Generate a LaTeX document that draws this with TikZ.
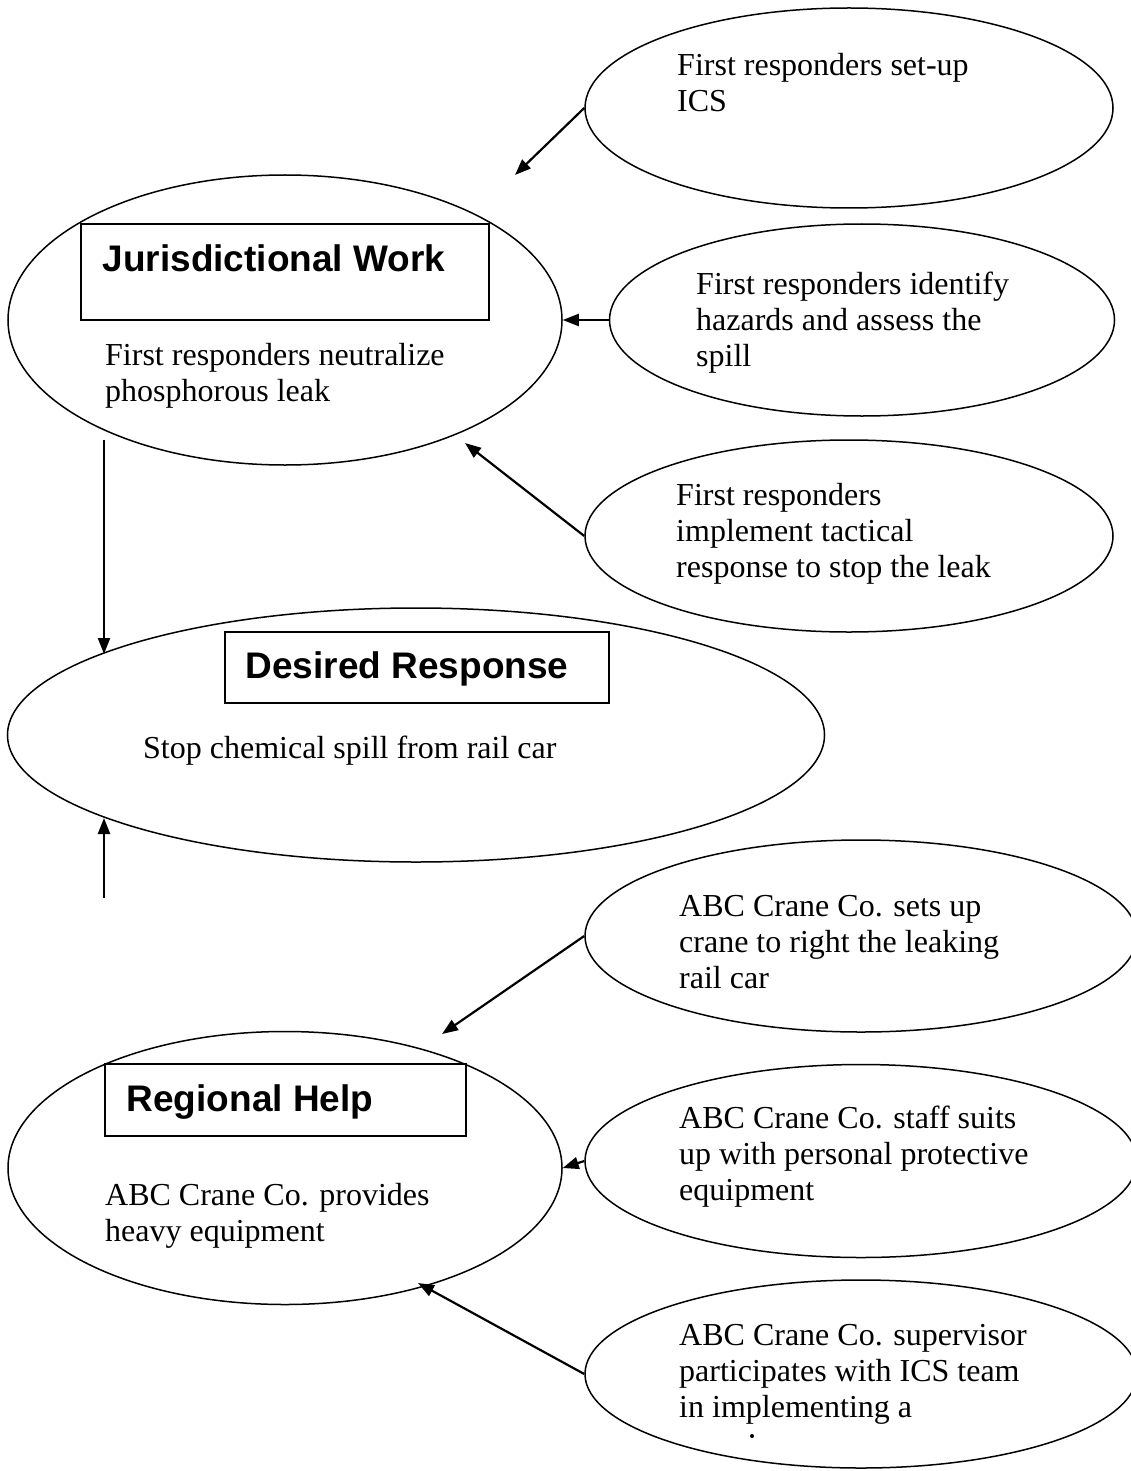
\documentclass[tikz,border=0pt]{standalone}
\usepackage{fontspec}
\setmainfont{Liberation Serif}
\newfontfamily\headfont{Liberation Sans}
\usetikzlibrary{shapes.geometric,arrows.meta}
\tikzset{
  oval/.style={draw, ellipse, line width=1.5pt, inner sep=0pt},
  hbox/.style={draw, rectangle, line width=1.8pt, inner sep=0pt},
  head/.style={inner sep=0pt, anchor=base, font=\headfont\bfseries\fontsize{37}{44}\selectfont},
  body/.style={inner sep=0pt, anchor=west, align=left, font=\fontsize{32}{36}\selectfont},
  arr/.style={line width=2.2pt, -{Triangle[length=16pt,width=12pt]}}
}
\begin{document}
\begin{tikzpicture}[x=1pt,y=-1pt]
\useasboundingbox (0,0) rectangle (1131,1471);
% ellipses
\node[oval, minimum width=528, minimum height=200] (e1) at (849,108) {};
\node[oval, minimum width=554, minimum height=290] (e2) at (285,320) {};
\node[oval, minimum width=505, minimum height=192] (e3) at (862,320) {};
\node[oval, minimum width=528, minimum height=192] (e4) at (849,536) {};
\node[oval, minimum width=817, minimum height=254] (e5) at (416,735) {};
\node[oval, minimum width=552, minimum height=192] (e6) at (861,936) {};
\node[oval, minimum width=554, minimum height=273] (e7) at (285,1168) {};
\node[oval, minimum width=552, minimum height=193] (e8) at (861,1161) {};
\node[oval, minimum width=552, minimum height=188] (e9) at (861,1374) {};
% heading boxes
\node[hbox, minimum width=408, minimum height=96] (r2) at (285,272) {};
\node[hbox, minimum width=384, minimum height=71] (r5) at (417,667.5) {};
\node[hbox, minimum width=361, minimum height=72] (r7) at (285.5,1100) {};
\node[head] (h2) at (274,271) {Jurisdictional Work};
\node[head] (h5) at (407,678) {Desired Response};
\node[head] (h7) at (250,1111) {Regional Help};
% texts
\node[body] (t1) at (677,82.5) {First responders set-up\\ICS};
\node[body] (t2) at (105,376) {First responders neutralize\\phosphorous leak};
\node[body] (t3) at (696,323) {First responders identify\\hazards and assess the\\spill};
\node[body] (t4) at (676,533.5) {First responders\\implement tactical\\response to stop the leak};
\node[body, anchor=base west] (t5) at (143,758) {Stop chemical spill from rail car};
\node[body] (t6) at (679,942) {ABC Crane Co. sets up\\crane to right the leaking\\rail car};
\node[body] (t7) at (105,1216) {ABC Crane Co. provides\\heavy equipment};
\node[body] (t8) at (679,1157) {ABC Crane Co. staff suits\\up with personal protective\\equipment};
\node[body] (t9) at (679,1374) {ABC Crane Co. supervisor\\participates with ICS team\\in implementing a};
\fill (752,1436) circle[radius=2];
% connector end points
\coordinate (a1) at (515,175);
\coordinate (a4) at (465,443);
\coordinate (a2s) at (104,440);
\coordinate (a5n) at (104,654);
\coordinate (a7n) at (104,898);
\coordinate (a5s) at (104,818);
\coordinate (a6) at (442,1034);
\coordinate (a9) at (418,1283);
% connectors
\draw[arr] (e1.west) -- (a1);
\draw[arr] (e3.west) -- (e2.east);
\draw[arr] (e4.west) -- (a4);
\draw[arr] (a2s) -- (a5n);
\draw[arr] (a7n) -- (a5s);
\draw[arr] (e6.west) -- (a6);
\draw[arr] (e8.west) -- (e7.east);
\draw[arr] (e9.west) -- (a9);
\end{tikzpicture}
\end{document}
